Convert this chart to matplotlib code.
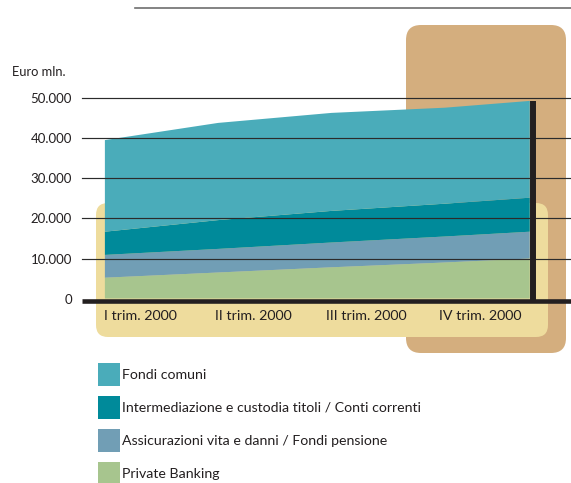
import matplotlib
matplotlib.use("Agg")
import matplotlib.pyplot as plt
from matplotlib.patches import FancyBboxPatch, Patch
from matplotlib.transforms import ScaledTranslation
import numpy as np

plt.rcParams['font.family'] = ['Lato', 'DejaVu Sans']

# ---- data (Euro mln.) ----
quarters = ["I trim. 2000", "II trim. 2000", "III trim. 2000", "IV trim. 2000"]
points_x = [-0.31, 0.69, 1.69, 2.69, 3.44]
private_banking = [5200, 6500, 7800, 9000, 10000]
assicurazioni = [5700, 5900, 6200, 6500, 6700]
intermediazione = [5800, 7200, 7900, 8200, 8500]
fondi_comuni = [22900, 24300, 24500, 24000, 24200]
yticks = [0, 10000, 20000, 30000, 40000, 50000]
ytick_labels = ["0", "10.000", "20.000", "30.000", "40.000", "50.000"]
series_labels = ["Private Banking",
                 "Assicurazioni vita e danni / Fondi pensione",
                 "Intermediazione e custodia titoli / Conti correnti",
                 "Fondi comuni"]
series_colors = ["#A7C58E", "#719EB5", "#008A9A", "#4AACBA"]

W, H = 571, 483
fig = plt.figure(figsize=(W / 100, H / 100), dpi=100)

# background decoration axes in pixel coordinates
bg = fig.add_axes([0, 0, 1, 1], zorder=0)
bg.set_xlim(0, W)
bg.set_ylim(H, 0)
bg.axis("off")
bg.add_patch(FancyBboxPatch((406 + 15, 25 + 15), 160 - 30, 328 - 30,
                            boxstyle="round,pad=15", fc="#D4AE7E", ec="none"))
bg.add_patch(FancyBboxPatch((96 + 12, 203 + 12), 452 - 24, 134 - 24,
                            boxstyle="round,pad=12", fc="#EEDC9D", ec="none"))
bg.plot([135, 571], [7.5, 7.5], color="#6e6e6e", lw=1.2)
bg.text(12, 76, "Euro mln.", fontsize=9.3, color="#231F20", va="baseline", ha="left")

# main axes
ax = fig.add_axes([82 / W, (H - 298.5) / H, (W - 82) / W, 200 / H], zorder=1)
ax.patch.set_visible(False)
ax.set_xlim(-0.512, 3.804)
ax.set_ylim(0, 50000)

ax.stackplot(points_x, private_banking, assicurazioni, intermediazione, fondi_comuni,
             colors=series_colors, linewidth=0, zorder=2)

for yv in yticks[1:]:
    ax.axhline(yv, color="#2b2b2b", lw=0.85, zorder=3, clip_on=False)

# thick baseline, shifted 2px down
off_down = ScaledTranslation(0, -2 / 100, fig.dpi_scale_trans)
ax.plot([0, 1], [0, 0], color="#231F20", lw=3.3, zorder=4, clip_on=False,
        solid_capstyle="butt", transform=ax.get_yaxis_transform() + off_down)

# vertical bar at the end of the series
total_end = (private_banking[-1] + assicurazioni[-1] + intermediazione[-1] + fondi_comuni[-1])
off_right = ScaledTranslation(3 / 100, 0, fig.dpi_scale_trans)
ax.plot([points_x[-1], points_x[-1]], [-1000, total_end], color="#231F20", lw=4.3,
        zorder=5, clip_on=False, solid_capstyle="butt",
        transform=ax.transData + off_right)

for s in ax.spines.values():
    s.set_visible(False)
ax.set_yticks(yticks)
ax.set_yticklabels(ytick_labels)
ax.set_xticks(range(len(quarters)))
ax.set_xticklabels(quarters)
ax.tick_params(axis="y", length=0, pad=7.2, labelsize=9.5, labelcolor="#231F20")
ax.tick_params(axis="x", length=0, pad=8.5, labelsize=10.3, labelcolor="#231F20")

# legend
handles = [Patch(facecolor=c, edgecolor="none", label=l)
           for c, l in zip(series_colors[::-1], series_labels[::-1])]
fs = 10.2
fspx = fs * 100 / 72
box_px = 22.5
hh = (box_px / fspx - 0.245) / 0.65
fig.legend(handles=handles, loc="upper left",
           bbox_to_anchor=(98 / W, 1 - 363 / H), bbox_transform=fig.transFigure,
           frameon=False, fontsize=fs, borderpad=0, borderaxespad=0,
           handlelength=box_px / fspx, handleheight=hh,
           handletextpad=2.0 / fspx, labelspacing=(33 - box_px) / fspx,
           labelcolor="#231F20")

fig.savefig("out.png", dpi=100)
